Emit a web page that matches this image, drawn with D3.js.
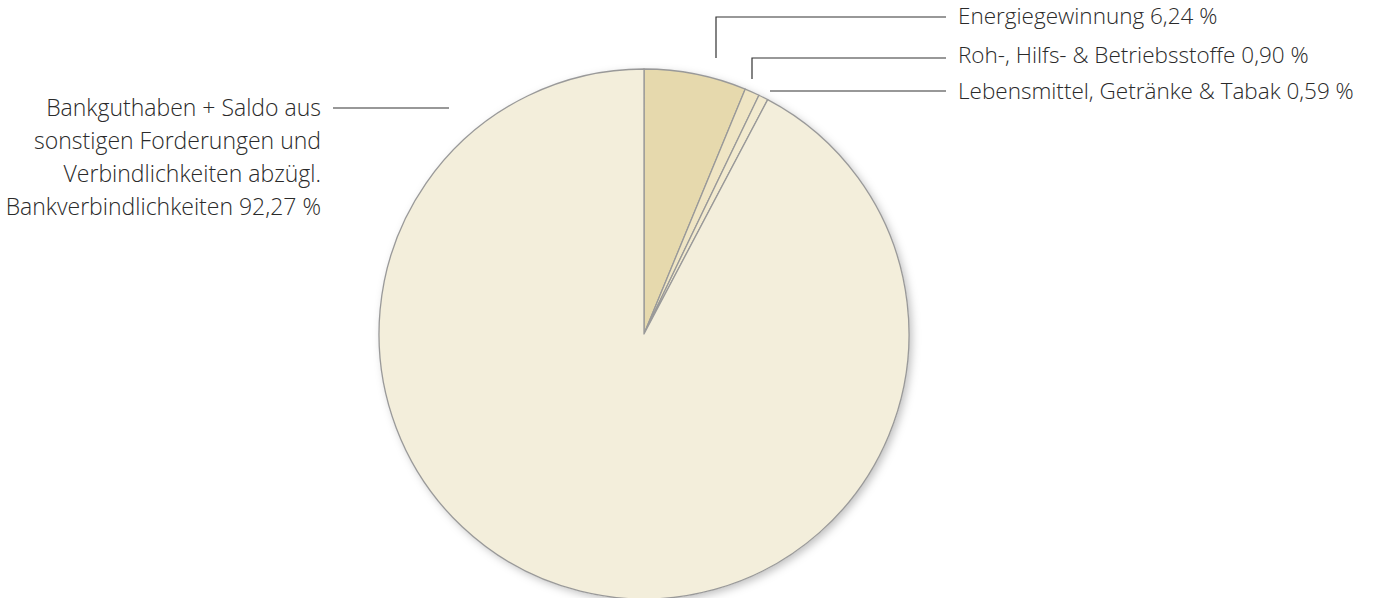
<!DOCTYPE html>
<html>
<head>
<meta charset="utf-8">
<script src="https://cdn.jsdelivr.net/npm/d3@7"></script>
<style>
  body { margin: 0; background: #fff; }
  text { font-family: "Open Sans", "Noto Sans", sans-serif; font-weight: 300; fill: #2a2a2a; }
</style>
</head>
<body>
<svg id="pie" width="1379" height="598"></svg>
<script>
// Data (Anteile in %)
const categories = [
  "Energiegewinnung",
  "Roh-, Hilfs- & Betriebsstoffe",
  "Lebensmittel, Getränke & Tabak",
  "Bankguthaben + Saldo aus sonstigen Forderungen und Verbindlichkeiten abzügl. Bankverbindlichkeiten"
];
const values = [6.24, 0.90, 0.59, 92.27];
const valueLabels = ["6,24 %", "0,90 %", "0,59 %", "92,27 %"];
const colors = ["#e6d9ad", "#efe5c4", "#f2eacf", "#f3eedb"];

const svg = d3.select("#pie"),
  cx = 644,
  cy = 334,
  radius = 265;

// shadow
const defs = svg.append("defs");
const f = defs.append("filter").attr("id", "shadow")
  .attr("x", "-10%").attr("y", "-10%").attr("width", "130%").attr("height", "130%");
f.append("feDropShadow")
  .attr("dx", 3).attr("dy", 3)
  .attr("stdDeviation", 4)
  .attr("flood-color", "#000")
  .attr("flood-opacity", 0.25);

const pie = d3.pie().sort(null).value(d => d);
const arcs = pie(values);
const arc = d3.arc().innerRadius(0).outerRadius(radius);

const g = svg.append("g").attr("transform", `translate(${cx},${cy})`);

g.append("circle")
  .attr("r", radius)
  .attr("fill", colors[3])
  .attr("filter", "url(#shadow)");

g.selectAll("path")
  .data(arcs)
  .enter()
  .append("path")
    .attr("d", arc)
    .attr("fill", (d, i) => colors[i])
    .attr("stroke", "#999")
    .attr("stroke-width", 1.3)
    .attr("stroke-linejoin", "round");

// leader lines + labels (right side, small slices)
const fontSize = 22.5;
const textX = 958;
const lineEnd = 946;
const rightLabels = [
  { i: 0, x0: 716, y0: 58, top: 17, textY: 16 },
  { i: 1, x0: 752, y0: 79, top: 58, textY: 55 },
  { i: 2, x0: 770, y0: null, top: 91, textY: 91 }
];

rightLabels.forEach(l => {
  const pts = l.y0 !== null
    ? [[l.x0, l.y0], [l.x0, l.top], [lineEnd, l.top]]
    : [[l.x0, l.top], [lineEnd, l.top]];
  svg.append("path")
    .attr("d", d3.line()(pts))
    .attr("fill", "none")
    .attr("stroke", "#333")
    .attr("stroke-width", 1.2);

  svg.append("text")
    .attr("x", textX)
    .attr("y", l.textY)
    .attr("dy", "0.35em")
    .attr("font-size", fontSize)
    .text(categories[l.i] + " " + valueLabels[l.i]);
});

// big slice label (left)
const leftLines = [
  "Bankguthaben + Saldo aus",
  "sonstigen Forderungen und",
  "Verbindlichkeiten abzügl.",
  "Bankverbindlichkeiten " + valueLabels[3]
];
const leftY = 108, lineH = 33;

svg.append("path")
  .attr("d", d3.line()([[333, leftY], [449, leftY]]))
  .attr("stroke", "#333")
  .attr("stroke-width", 1.2);

svg.append("text")
  .attr("text-anchor", "end")
  .attr("font-size", 23)
  .selectAll("tspan")
  .data(leftLines)
  .enter()
  .append("tspan")
    .attr("x", 321)
    .attr("y", (d, i) => leftY + i * lineH)
    .attr("dy", "0.35em")
    .text(d => d);
</script>
</body>
</html>
